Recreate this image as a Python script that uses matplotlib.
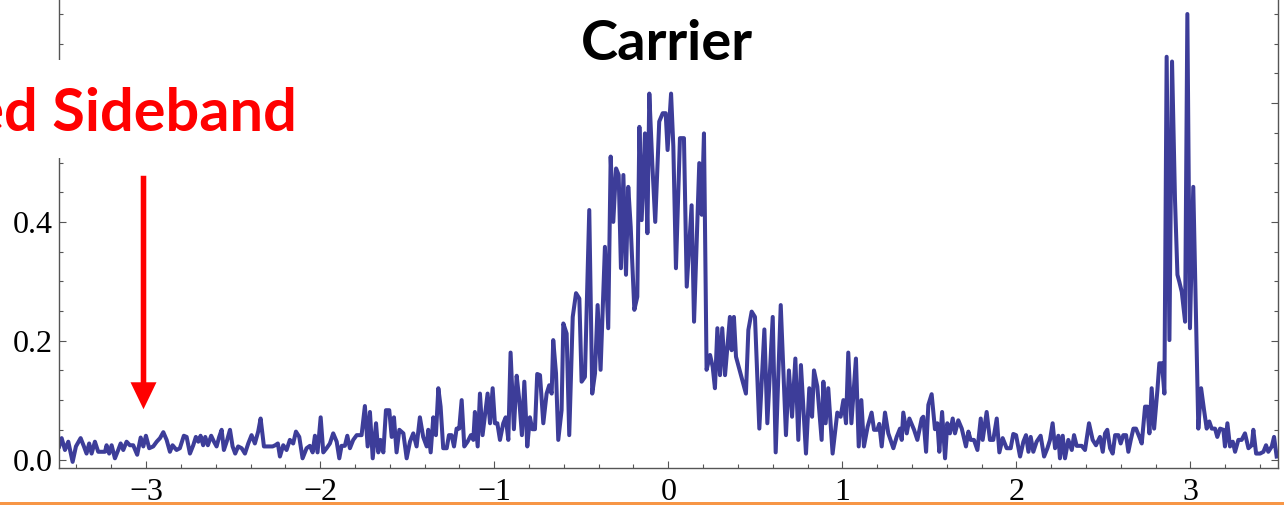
import matplotlib.pyplot as plt
from matplotlib.ticker import MultipleLocator, FixedLocator, FixedFormatter
from matplotlib.patches import Rectangle, FancyArrowPatch

# detuning (x) and signal (y) from left to right
detuning = [
    -3.499, -3.485, -3.466, -3.447, -3.422, -3.403, -3.376, -3.357, -3.342, -3.327,
    -3.313, -3.294, -3.275, -3.256, -3.236, -3.227, -3.212, -3.198, -3.179, -3.160,
    -3.146, -3.131, -3.112, -3.093, -3.074, -3.051, -3.031, -3.016, -3.001, -2.982,
    -2.959, -2.939, -2.920, -2.901, -2.882, -2.863, -2.848, -2.825, -2.806, -2.783,
    -2.767, -2.748, -2.729, -2.714, -2.700, -2.687, -2.672, -2.660, -2.645, -2.626,
    -2.610, -2.595, -2.580, -2.566, -2.553, -2.537, -2.518, -2.503, -2.488, -2.471,
    -2.451, -2.432, -2.413, -2.394, -2.375, -2.356, -2.342, -2.323, -2.298, -2.273,
    -2.258, -2.243, -2.231, -2.212, -2.193, -2.174, -2.155, -2.139, -2.120,
    -2.101, -2.078, -2.059, -2.043, -2.030, -2.015, -1.997, -1.982, -1.963, -1.944,
    -1.925, -1.905, -1.890, -1.877, -1.858, -1.844, -1.829, -1.810, -1.790, -1.762,
    -1.743, -1.727, -1.714, -1.698, -1.679, -1.666, -1.653, -1.637, -1.622, -1.603,
    -1.589, -1.576, -1.561, -1.545, -1.522, -1.503, -1.484, -1.465, -1.446, -1.427,
    -1.408, -1.388, -1.379, -1.365, -1.350, -1.335, -1.321, -1.308, -1.293, -1.273,
    -1.260, -1.245, -1.231, -1.216, -1.201, -1.187, -1.172, -1.153, -1.134, -1.120,
    -1.111, -1.095, -1.082, -1.067, -1.051, -1.038, -1.024, -1.009, -0.996, -0.982,
    -0.967, -0.948, -0.934, -0.919, -0.906, -0.887, -0.871, -0.856, -0.841, -0.827,
    -0.810, -0.795, -0.781, -0.766, -0.753,
    -0.737, -0.718, -0.699, -0.684, -0.670, -0.661, -0.645, -0.632, -0.613, -0.603,
    -0.584, -0.569, -0.549, -0.530, -0.511, -0.498, -0.479, -0.454, -0.437, -0.421,
    -0.406, -0.389, -0.364, -0.345, -0.331, -0.316, -0.300, -0.285, -0.272, -0.258,
    -0.243, -0.230, -0.216, -0.195, -0.178, -0.166, -0.153, -0.134, -0.120, -0.109,
    -0.092, -0.075, -0.052, -0.032, -0.015, -0.004, 0.016, 0.029, 0.044, 0.067,
    0.090, 0.106, 0.134, 0.148, 0.178, 0.192, 0.205, 0.220, 0.240, 0.255,
    0.268, 0.282, 0.297, 0.310, 0.326,
    0.354, 0.364, 0.377, 0.389, 0.446, 0.460, 0.479, 0.498, 0.523, 0.552,
    0.569, 0.600, 0.617, 0.646, 0.676, 0.693, 0.711, 0.730, 0.747, 0.762,
    0.791, 0.810, 0.826, 0.837, 0.856, 0.881, 0.891, 0.904, 0.919, 0.944,
    0.971, 0.990, 1.006, 1.021, 1.034, 1.052, 1.078, 1.094, 1.109, 1.124,
    1.145, 1.168, 1.182, 1.201, 1.212, 1.226, 1.245, 1.264, 1.293, 1.312,
    1.331, 1.341, 1.350, 1.370, 1.385,
    1.412, 1.431, 1.456, 1.465, 1.481, 1.494, 1.513, 1.532, 1.546, 1.557,
    1.573, 1.590, 1.603, 1.618, 1.634, 1.647, 1.666, 1.686, 1.710, 1.724,
    1.737, 1.756, 1.776, 1.795, 1.806, 1.829, 1.848, 1.867, 1.887, 1.902,
    1.921, 1.944, 1.967, 1.982, 1.998, 2.021, 2.040, 2.055, 2.069, 2.082,
    2.097, 2.116, 2.139, 2.159, 2.178, 2.193, 2.208, 2.222, 2.241, 2.250,
    2.266, 2.279, 2.298, 2.318, 2.331, 2.346, 2.375, 2.394, 2.417, 2.438,
    2.457,
    2.480, 2.496, 2.509, 2.522, 2.538, 2.553, 2.567, 2.586, 2.599, 2.614,
    2.630, 2.643, 2.657, 2.672, 2.687, 2.706, 2.720, 2.739, 2.752, 2.764,
    2.777, 2.791, 2.810, 2.821, 2.836, 2.850, 2.863, 2.879, 2.894, 2.911,
    2.925, 2.936, 2.950, 2.969, 2.982, 2.997, 3.016, 3.045, 3.061, 3.078,
    3.093, 3.108, 3.122, 3.141, 3.154, 3.170, 3.189, 3.198, 3.212, 3.227,
    3.243, 3.256, 3.275, 3.294, 3.313, 3.333, 3.352, 3.361, 3.377, 3.400,
    3.419, 3.434, 3.447, 3.467, 3.480, 3.495,
]
signal = [
    0.022, 0.036, 0.016, 0.030, -0.004, 0.022, 0.036, 0.022, 0.010, 0.027,
    0.010, 0.030, 0.013, 0.013, 0.013, 0.024, 0.010, 0.024, 0.002, 0.016,
    0.027, 0.016, 0.030, 0.024, 0.024, 0.008, 0.037, 0.022, 0.040, 0.019,
    0.022, 0.030, 0.036, 0.046, 0.033, 0.013, 0.024, 0.016, 0.019, 0.040,
    0.038, 0.010, 0.024, 0.038, 0.030, 0.040, 0.024, 0.038, 0.024, 0.040,
    0.030, 0.022, 0.038, 0.050, 0.016, 0.030, 0.050, 0.022, 0.010, 0.022,
    0.019, 0.010, 0.027, 0.041, 0.027, 0.047, 0.069, 0.022, 0.022, 0.022,
    0.024, 0.027, 0.005, 0.024, 0.016, 0.033, 0.027, 0.047, 0.038,
    0.002, 0.019, 0.023, 0.012, 0.040, 0.012, 0.071, 0.012, 0.019, 0.027,
    0.044, 0.030, 0.002, 0.023, 0.023, 0.040, 0.019, 0.033, 0.041, 0.041,
    0.090, 0.022, 0.080, 0.002, 0.061, 0.012, 0.033, 0.012, 0.083, 0.083,
    0.038, 0.071, 0.012, 0.050, 0.044, 0.002, 0.030, 0.044, 0.022, 0.071,
    0.038, 0.022, 0.050, 0.012, 0.071, 0.041, 0.120, 0.089, 0.019, 0.019,
    0.041, 0.041, 0.022, 0.052, 0.052, 0.100, 0.022, 0.030, 0.041, 0.033,
    0.080, 0.022, 0.111, 0.041, 0.079, 0.111, 0.061, 0.120, 0.061, 0.061,
    0.033, 0.061, 0.071, 0.033, 0.180, 0.051, 0.141, 0.100, 0.041, 0.131,
    0.022, 0.071, 0.051, 0.051, 0.144,
    0.142, 0.061, 0.111, 0.125, 0.111, 0.201, 0.145, 0.033, 0.083, 0.229,
    0.212, 0.041, 0.240, 0.280, 0.271, 0.131, 0.139, 0.420, 0.111, 0.145,
    0.260, 0.151, 0.358, 0.221, 0.510, 0.400, 0.490, 0.479, 0.322, 0.479,
    0.311, 0.459, 0.392, 0.252, 0.274, 0.560, 0.403, 0.549, 0.381, 0.616,
    0.499, 0.400, 0.569, 0.583, 0.583, 0.521, 0.616, 0.527, 0.322, 0.541,
    0.541, 0.291, 0.428, 0.232, 0.499, 0.412, 0.549, 0.151, 0.176, 0.156,
    0.120, 0.221, 0.142, 0.221, 0.142,
    0.240, 0.184, 0.240, 0.173, 0.111, 0.218, 0.249, 0.240, 0.052, 0.219,
    0.061, 0.240, 0.012, 0.260, 0.041, 0.150, 0.072, 0.170, 0.033, 0.159,
    0.010, 0.120, 0.072, 0.150, 0.123, 0.033, 0.131, 0.061, 0.120, 0.010,
    0.079, 0.072, 0.100, 0.061, 0.180, 0.061, 0.170, 0.022, 0.100, 0.022,
    0.055, 0.079, 0.050, 0.050, 0.060, 0.022, 0.079, 0.044, 0.019, 0.038,
    0.052, 0.033, 0.079, 0.044, 0.069,
    0.050, 0.033, 0.069, 0.072, 0.013, 0.092, 0.110, 0.051, 0.061, 0.013,
    0.080, 0.002, 0.061, 0.044, 0.069, 0.044, 0.066, 0.052, 0.022, 0.047,
    0.033, 0.033, 0.016, 0.069, 0.033, 0.080, 0.033, 0.033, 0.069, 0.012,
    0.036, 0.019, 0.019, 0.043, 0.041, 0.005, 0.030, 0.041, 0.013, 0.038,
    0.013, 0.030, 0.040, 0.005, 0.019, 0.033, 0.061, 0.019, 0.040, 0.002,
    0.040, 0.002, 0.033, 0.016, 0.041, 0.023, 0.023, 0.016, 0.061, 0.033,
    0.024,
    0.038, 0.013, 0.044, 0.050, 0.019, 0.010, 0.041, 0.041, 0.027, 0.041,
    0.041, 0.013, 0.033, 0.052, 0.052, 0.038, 0.027, 0.089, 0.089, 0.044,
    0.120, 0.052, 0.117, 0.162, 0.162, 0.111, 0.678, 0.201, 0.670, 0.437,
    0.311, 0.299, 0.282, 0.232, 0.750, 0.221, 0.459, 0.052, 0.120, 0.083,
    0.052, 0.064, 0.052, 0.052, 0.038, 0.052, 0.050, 0.022, 0.061, 0.022,
    0.030, 0.013, 0.033, 0.033, 0.044, 0.019, 0.024, 0.050, 0.010, 0.010,
    0.013, 0.024, 0.013, 0.022, 0.038, 0.005,
]

x_major = [-3, -2, -1, 0, 1, 2, 3]
y_major = [0.0, 0.2, 0.4, 0.6, 0.8]
# 0.6 and 0.8 sit behind the label box / above the crop
y_labels = ['0.0', '0.2', '0.4', '', '']

W, H = 1284, 505


def fx(px):
    return px / W


def fy(py):
    # image rows count from the top
    return 1 - py / H


fig = plt.figure(figsize=(W / 100, H / 100), dpi=100)
ylo, yhi = -0.0143, 0.85
ax = fig.add_axes([fx(58.7), fy(468), fx(1277.7) - fx(58.7), (yhi - ylo) * 594 / H])

ax.plot(detuning, signal, color='#3d3d99', lw=2.9)
ax.set_xlim(-3.502, 3.501)
ax.set_ylim(ylo, yhi)

ax.xaxis.set_major_locator(FixedLocator(x_major))
ax.xaxis.set_minor_locator(MultipleLocator(0.2))
ax.yaxis.set_major_locator(FixedLocator(y_major))
ax.yaxis.set_major_formatter(FixedFormatter(y_labels))
ax.yaxis.set_minor_locator(MultipleLocator(0.05))

for s in ax.spines.values():
    s.set_color('#555555')
    s.set_linewidth(1.0)
ax.tick_params(which='both', direction='in', top=True, right=True,
               color='#555555', width=0.8, labelcolor='black')
ax.tick_params(which='major', length=5)
ax.tick_params(which='minor', length=3)
ax.tick_params(axis='x', pad=7.5)
ax.tick_params(axis='y', pad=4)
for lab in ax.get_xticklabels() + ax.get_yticklabels():
    lab.set_fontfamily('Liberation Serif')
    lab.set_fontsize(23)

# white label box that hides part of the left axis
fig.add_artist(Rectangle((fx(0), fy(158)), fx(300), fy(60) - fy(158),
                         transform=fig.transFigure, facecolor='white',
                         edgecolor='none', zorder=2))

renderer = fig.canvas.get_renderer()


def fit_size(s, width_px, **kw):
    t = fig.text(0, 0, s, fontsize=40, **kw)
    w = t.get_window_extent(renderer).width
    t.remove()
    return 40 * width_px / w


title_font = dict(family='Lato', weight='bold')
fig.text(fx(666.7), fy(60), 'Carrier', ha='center', va='baseline',
         fontsize=fit_size('Carrier', 172, **title_font), color='black',
         zorder=3, **title_font)
fig.text(fx(297), fy(130.7), 'Red Sideband', ha='right', va='baseline',
         fontsize=fit_size('Sideband', 244, **title_font), color='#ff0000',
         zorder=3, **title_font)

arrow = FancyArrowPatch((fx(143.5), fy(173)), (fx(143.5), fy(412)),
                        transform=fig.transFigure,
                        arrowstyle='simple,head_length=1.94,head_width=1.87,tail_width=0.4',
                        mutation_scale=10, color='#ff0000', lw=0, zorder=3)
fig.add_artist(arrow)

# orange rule along the bottom edge
fig.add_artist(Rectangle((0, 0), 1, fy(501.5), transform=fig.transFigure,
                         facecolor='#f79646', edgecolor='none', zorder=4))

fig.savefig('out.png', dpi=100)
